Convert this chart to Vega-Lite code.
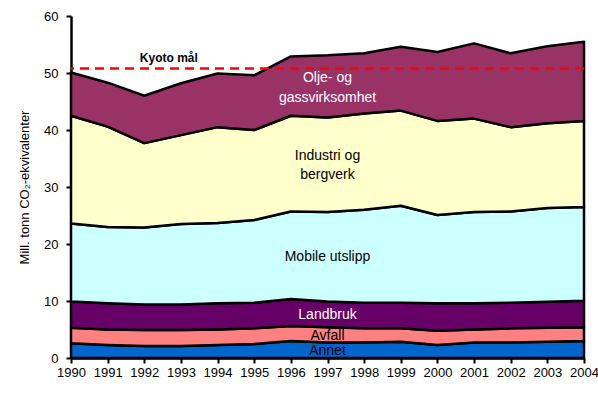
{
  "$schema": "https://vega.github.io/schema/vega-lite/v6.json",
  "autosize": "none",
  "width": 513,
  "height": 342,
  "padding": {"left": 71, "top": 16, "right": 14, "bottom": 46},
  "config": {
    "font": "Liberation Sans",
    "view": {"stroke": null},
    "axis": {"grid": false, "domainColor": "black", "tickColor": "black", "labelColor": "black", "titleColor": "black", "labelFont": "Liberation Sans", "titleFont": "Liberation Sans", "labelFontSize": 13, "domainWidth": 2.5, "tickWidth": 2},
    "axisX": {"labelOverlap": false, "labelFlush": false, "labelPadding": 3, "tickSize": 5, "labelFontSize": 13},
    "axisY": {"tickSize": 5, "labelPadding": 8, "titleFontSize": 13, "titleFontWeight": "normal", "titlePadding": 12}
  },
  "datasets": {
    "series": [
      {"year": 1990, "kilde": "Annet", "ord": 1, "verdi": 2.6},
      {"year": 1991, "kilde": "Annet", "ord": 1, "verdi": 2.3},
      {"year": 1992, "kilde": "Annet", "ord": 1, "verdi": 2.1},
      {"year": 1993, "kilde": "Annet", "ord": 1, "verdi": 2.1},
      {"year": 1994, "kilde": "Annet", "ord": 1, "verdi": 2.3},
      {"year": 1995, "kilde": "Annet", "ord": 1, "verdi": 2.45},
      {"year": 1996, "kilde": "Annet", "ord": 1, "verdi": 3.0},
      {"year": 1997, "kilde": "Annet", "ord": 1, "verdi": 2.7},
      {"year": 1998, "kilde": "Annet", "ord": 1, "verdi": 2.7},
      {"year": 1999, "kilde": "Annet", "ord": 1, "verdi": 2.85},
      {"year": 2000, "kilde": "Annet", "ord": 1, "verdi": 2.3},
      {"year": 2001, "kilde": "Annet", "ord": 1, "verdi": 2.7},
      {"year": 2002, "kilde": "Annet", "ord": 1, "verdi": 2.7},
      {"year": 2003, "kilde": "Annet", "ord": 1, "verdi": 2.85},
      {"year": 2004, "kilde": "Annet", "ord": 1, "verdi": 3.0},
      {"year": 1990, "kilde": "Avfall", "ord": 2, "verdi": 2.7},
      {"year": 1991, "kilde": "Avfall", "ord": 2, "verdi": 2.7},
      {"year": 1992, "kilde": "Avfall", "ord": 2, "verdi": 2.8},
      {"year": 1993, "kilde": "Avfall", "ord": 2, "verdi": 2.8},
      {"year": 1994, "kilde": "Avfall", "ord": 2, "verdi": 2.7},
      {"year": 1995, "kilde": "Avfall", "ord": 2, "verdi": 2.75},
      {"year": 1996, "kilde": "Avfall", "ord": 2, "verdi": 2.6},
      {"year": 1997, "kilde": "Avfall", "ord": 2, "verdi": 2.7},
      {"year": 1998, "kilde": "Avfall", "ord": 2, "verdi": 2.5},
      {"year": 1999, "kilde": "Avfall", "ord": 2, "verdi": 2.35},
      {"year": 2000, "kilde": "Avfall", "ord": 2, "verdi": 2.5},
      {"year": 2001, "kilde": "Avfall", "ord": 2, "verdi": 2.3},
      {"year": 2002, "kilde": "Avfall", "ord": 2, "verdi": 2.5},
      {"year": 2003, "kilde": "Avfall", "ord": 2, "verdi": 2.45},
      {"year": 2004, "kilde": "Avfall", "ord": 2, "verdi": 2.4},
      {"year": 1990, "kilde": "Landbruk", "ord": 3, "verdi": 4.6},
      {"year": 1991, "kilde": "Landbruk", "ord": 3, "verdi": 4.6},
      {"year": 1992, "kilde": "Landbruk", "ord": 3, "verdi": 4.5},
      {"year": 1993, "kilde": "Landbruk", "ord": 3, "verdi": 4.5},
      {"year": 1994, "kilde": "Landbruk", "ord": 3, "verdi": 4.6},
      {"year": 1995, "kilde": "Landbruk", "ord": 3, "verdi": 4.5},
      {"year": 1996, "kilde": "Landbruk", "ord": 3, "verdi": 4.75},
      {"year": 1997, "kilde": "Landbruk", "ord": 3, "verdi": 4.5},
      {"year": 1998, "kilde": "Landbruk", "ord": 3, "verdi": 4.5},
      {"year": 1999, "kilde": "Landbruk", "ord": 3, "verdi": 4.5},
      {"year": 2000, "kilde": "Landbruk", "ord": 3, "verdi": 4.8},
      {"year": 2001, "kilde": "Landbruk", "ord": 3, "verdi": 4.6},
      {"year": 2002, "kilde": "Landbruk", "ord": 3, "verdi": 4.5},
      {"year": 2003, "kilde": "Landbruk", "ord": 3, "verdi": 4.55},
      {"year": 2004, "kilde": "Landbruk", "ord": 3, "verdi": 4.65},
      {"year": 1990, "kilde": "Mobile utslipp", "ord": 4, "verdi": 13.7},
      {"year": 1991, "kilde": "Mobile utslipp", "ord": 4, "verdi": 13.4},
      {"year": 1992, "kilde": "Mobile utslipp", "ord": 4, "verdi": 13.5},
      {"year": 1993, "kilde": "Mobile utslipp", "ord": 4, "verdi": 14.1},
      {"year": 1994, "kilde": "Mobile utslipp", "ord": 4, "verdi": 14.1},
      {"year": 1995, "kilde": "Mobile utslipp", "ord": 4, "verdi": 14.5},
      {"year": 1996, "kilde": "Mobile utslipp", "ord": 4, "verdi": 15.35},
      {"year": 1997, "kilde": "Mobile utslipp", "ord": 4, "verdi": 15.7},
      {"year": 1998, "kilde": "Mobile utslipp", "ord": 4, "verdi": 16.3},
      {"year": 1999, "kilde": "Mobile utslipp", "ord": 4, "verdi": 17.0},
      {"year": 2000, "kilde": "Mobile utslipp", "ord": 4, "verdi": 15.5},
      {"year": 2001, "kilde": "Mobile utslipp", "ord": 4, "verdi": 16.0},
      {"year": 2002, "kilde": "Mobile utslipp", "ord": 4, "verdi": 16.0},
      {"year": 2003, "kilde": "Mobile utslipp", "ord": 4, "verdi": 16.45},
      {"year": 2004, "kilde": "Mobile utslipp", "ord": 4, "verdi": 16.45},
      {"year": 1990, "kilde": "Industri og bergverk", "ord": 5, "verdi": 18.9},
      {"year": 1991, "kilde": "Industri og bergverk", "ord": 5, "verdi": 17.6},
      {"year": 1992, "kilde": "Industri og bergverk", "ord": 5, "verdi": 14.8},
      {"year": 1993, "kilde": "Industri og bergverk", "ord": 5, "verdi": 15.6},
      {"year": 1994, "kilde": "Industri og bergverk", "ord": 5, "verdi": 16.8},
      {"year": 1995, "kilde": "Industri og bergverk", "ord": 5, "verdi": 15.8},
      {"year": 1996, "kilde": "Industri og bergverk", "ord": 5, "verdi": 16.8},
      {"year": 1997, "kilde": "Industri og bergverk", "ord": 5, "verdi": 16.6},
      {"year": 1998, "kilde": "Industri og bergverk", "ord": 5, "verdi": 16.9},
      {"year": 1999, "kilde": "Industri og bergverk", "ord": 5, "verdi": 16.7},
      {"year": 2000, "kilde": "Industri og bergverk", "ord": 5, "verdi": 16.5},
      {"year": 2001, "kilde": "Industri og bergverk", "ord": 5, "verdi": 16.4},
      {"year": 2002, "kilde": "Industri og bergverk", "ord": 5, "verdi": 14.8},
      {"year": 2003, "kilde": "Industri og bergverk", "ord": 5, "verdi": 14.9},
      {"year": 2004, "kilde": "Industri og bergverk", "ord": 5, "verdi": 15.1},
      {"year": 1990, "kilde": "Olje- og gassvirksomhet", "ord": 6, "verdi": 7.6},
      {"year": 1991, "kilde": "Olje- og gassvirksomhet", "ord": 6, "verdi": 7.7},
      {"year": 1992, "kilde": "Olje- og gassvirksomhet", "ord": 6, "verdi": 8.3},
      {"year": 1993, "kilde": "Olje- og gassvirksomhet", "ord": 6, "verdi": 9.1},
      {"year": 1994, "kilde": "Olje- og gassvirksomhet", "ord": 6, "verdi": 9.4},
      {"year": 1995, "kilde": "Olje- og gassvirksomhet", "ord": 6, "verdi": 9.6},
      {"year": 1996, "kilde": "Olje- og gassvirksomhet", "ord": 6, "verdi": 10.4},
      {"year": 1997, "kilde": "Olje- og gassvirksomhet", "ord": 6, "verdi": 10.9},
      {"year": 1998, "kilde": "Olje- og gassvirksomhet", "ord": 6, "verdi": 10.55},
      {"year": 1999, "kilde": "Olje- og gassvirksomhet", "ord": 6, "verdi": 11.2},
      {"year": 2000, "kilde": "Olje- og gassvirksomhet", "ord": 6, "verdi": 12.1},
      {"year": 2001, "kilde": "Olje- og gassvirksomhet", "ord": 6, "verdi": 13.2},
      {"year": 2002, "kilde": "Olje- og gassvirksomhet", "ord": 6, "verdi": 12.95},
      {"year": 2003, "kilde": "Olje- og gassvirksomhet", "ord": 6, "verdi": 13.5},
      {"year": 2004, "kilde": "Olje- og gassvirksomhet", "ord": 6, "verdi": 13.9}
    ],
    "whiteLabels": [
      {"year": 1997, "verdi": 49.1, "tekst": "Olje- og"},
      {"year": 1997, "verdi": 45.7, "tekst": "gassvirksomhet"},
      {"year": 1997, "verdi": 7.5, "tekst": "Landbruk"}
    ],
    "blackLabels": [
      {"year": 1997, "verdi": 35.4, "tekst": "Industri og"},
      {"year": 1997, "verdi": 32.1, "tekst": "bergverk"},
      {"year": 1997, "verdi": 17.8, "tekst": "Mobile utslipp"},
      {"year": 1997, "verdi": 3.9, "tekst": "Avfall"},
      {"year": 1997, "verdi": 1.3, "tekst": "Annet"}
    ],
    "kyotoTekst": [
      {"year": 1992.67, "verdi": 52.6, "tekst": "Kyoto mål"}
    ],
    "kyotoMal": [
      {"verdi": 50.8}
    ]
  },
  "encoding": {
    "x": {"field": "year", "type": "quantitative", "scale": {"domain": [1990, 2004], "nice": false, "zero": false},
      "axis": {"values": [1990,1991,1992,1993,1994,1995,1996,1997,1998,1999,2000,2001,2002,2003,2004], "format": "d", "title": null}},
    "y": {"field": "verdi", "type": "quantitative", "scale": {"domain": [0, 60], "nice": false},
      "axis": {"values": [0,10,20,30,40,50,60], "title": "Mill. tonn CO₂-ekvivalenter"}}
  },
  "layer": [
    {
      "data": {"name": "series"},
      "mark": {"type": "area", "stroke": "black", "strokeWidth": 2.5, "strokeJoin": "round", "opacity": 1, "fillOpacity": 1},
      "encoding": {
        "y": {"field": "verdi", "type": "quantitative", "stack": "zero"},
        "order": {"field": "ord", "type": "quantitative"},
        "color": {"field": "kilde", "type": "nominal", "legend": null,
          "scale": {"domain": ["Annet", "Avfall", "Landbruk", "Mobile utslipp", "Industri og bergverk", "Olje- og gassvirksomhet"],
                    "range": ["#0066CC", "#FF8080", "#660066", "#CCFFFF", "#FFFFCC", "#993366"]}}
      }
    },
    {
      "data": {"name": "kyotoMal"},
      "mark": {"type": "rule", "color": "#FF0000", "strokeWidth": 2.5, "strokeDash": [9, 6]},
      "encoding": {"x": null, "y": {"field": "verdi", "type": "quantitative"}}
    },
    {
      "data": {"name": "kyotoTekst"},
      "mark": {"type": "text", "fontSize": 12, "fontWeight": "bold", "color": "black"},
      "encoding": {"text": {"field": "tekst"}}
    },
    {
      "data": {"name": "whiteLabels"},
      "mark": {"type": "text", "fontSize": 14, "color": "white"},
      "encoding": {"text": {"field": "tekst"}}
    },
    {
      "data": {"name": "blackLabels"},
      "mark": {"type": "text", "fontSize": 14, "color": "black"},
      "encoding": {"text": {"field": "tekst"}}
    }
  ]
}
